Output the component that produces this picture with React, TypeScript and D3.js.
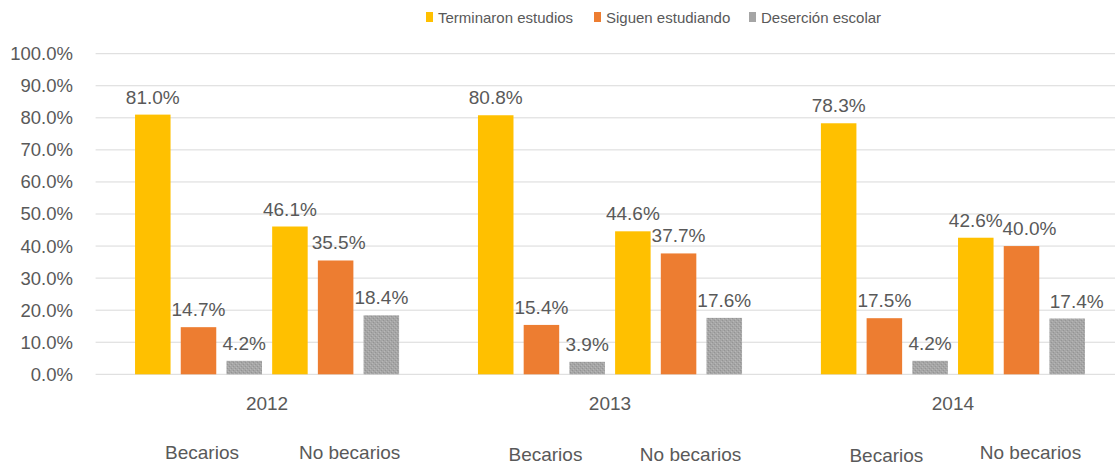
import React from "react";
import * as d3 from "d3";

const years = ["2012", "2013", "2014"];
const groups = ["Becarios", "No becarios"];
const seriesNames = ["Terminaron estudios", "Siguen estudiando", "Deserción escolar"];
// values [year][group][series]
const becariosTerminaron = [0.81, 0.808, 0.783];
const becariosSiguen = [0.147, 0.154, 0.175];
const becariosDesercion = [0.042, 0.039, 0.042];
const noBecariosTerminaron = [0.461, 0.446, 0.426];
const noBecariosSiguen = [0.355, 0.377, 0.4];
const noBecariosDesercion = [0.184, 0.176, 0.174];
const yTicks = [0, 0.1, 0.2, 0.3, 0.4, 0.5, 0.6, 0.7, 0.8, 0.9, 1.0];

const colors = ["#FFC000", "#ED7D31", "url(#grayTex)"];
const legendColors = ["#FFC000", "#ED7D31", "#A5A5A5"];

const W = 1115;
const H = 468;
const left = 95.6;
const right = 1124.4;
const y0 = 374.3;
const y1 = 53.7;
const textColor = "#595959";
const font = "'Liberation Sans', Arial, sans-serif";

// label nudges for overlapping data labels (year-index, bar-index) -> dx
const labelNudge: Record<string, number> = { "0-4": 3, "2-4": 8, "2-5": 9.5 };
// manual text-box offsets for the group labels
const groupLabelDx = [[3.5, 14], [4, 12], [2, 9]];
const groupLabelY = [[458.5, 458.5], [461, 461], [461.5, 458.5]];

export default function App() {
  const x0 = d3.scaleBand<string>().domain(years).range([left, right]).paddingInner(0.23).paddingOuter(0.115);
  const barKeys = d3.range(6).map(String);
  const x1 = d3.scaleBand<string>().domain(barKeys).range([0, x0.bandwidth()]).paddingInner(0.223);
  const y = d3.scaleLinear().domain([0, 1]).range([y0, y1]);
  const fmt = d3.format(".1%");

  const rows = years.map((yr, i) => [
    becariosTerminaron[i], becariosSiguen[i], becariosDesercion[i],
    noBecariosTerminaron[i], noBecariosSiguen[i], noBecariosDesercion[i],
  ]);

  const legendX = [426, 594, 749];

  return (
    <svg width={W} height={H} style={{ position: "absolute", left: 0, top: 0, background: "#fff" }} fontFamily={font}>
      <defs>
        <pattern id="grayTex" width="4" height="4" patternUnits="userSpaceOnUse">
          <rect width="4" height="4" fill="#a6a6a6" />
          <rect x="0" y="0" width="1" height="1" fill="#939393" />
          <rect x="2" y="2" width="1" height="1" fill="#939393" />
          <rect x="1" y="3" width="1" height="1" fill="#b8b8b8" />
          <rect x="3" y="1" width="1" height="1" fill="#b8b8b8" />
        </pattern>
      </defs>
      <rect width={W} height={H} fill="#fff" />
      {/* gridlines */}
      {yTicks.map((t) => (
        <g key={t}>
          <line x1={left} x2={right} y1={y(t)} y2={y(t)} stroke="#d9d9d9" strokeWidth={1} />
          <text x={73} y={y(t)} dy="0.35em" textAnchor="end" fontSize={18.5} fill={textColor}>
            {fmt(t)}
          </text>
        </g>
      ))}
      {/* bars */}
      {rows.map((vals, i) => (
        <g key={years[i]} transform={`translate(${x0(years[i])},0)`}>
          {vals.map((v, j) => {
            const bx = x1(String(j))!;
            const bw = x1.bandwidth();
            const nudge = labelNudge[`${i}-${j}`] || 0;
            return (
              <g key={j}>
                <rect x={bx} y={y(v)} width={bw} height={y0 - y(v)} fill={colors[j % 3]} />
                <text x={bx + bw / 2 + nudge} y={y(v) - 11} textAnchor="middle" fontSize={19} fill={textColor}>
                  {fmt(v)}
                </text>
              </g>
            );
          })}
        </g>
      ))}
      {/* year labels */}
      {years.map((yr) => (
        <text key={yr} x={x0(yr)! + x0.bandwidth() / 2} y={410} textAnchor="middle" fontSize={19} fill={textColor}>
          {yr}
        </text>
      ))}
      {/* group labels */}
      {years.map((yr, i) =>
        groups.map((g, k) => {
          const a = x1(String(k * 3))!;
          const b = x1(String(k * 3 + 2))! + x1.bandwidth();
          const cx = x0(yr)! + (a + b) / 2 + groupLabelDx[i][k];
          return (
            <text key={yr + g} x={cx} y={groupLabelY[i][k]} textAnchor="middle" fontSize={19} fill={textColor}>
              {g}
            </text>
          );
        })
      )}
      {/* legend */}
      {seriesNames.map((s, i) => (
        <g key={s}>
          <rect x={legendX[i]} y={12} width={7} height={10} fill={legendColors[i]} />
          <text x={legendX[i] + 12} y={23} fontSize={15} fill={textColor}>
            {s}
          </text>
        </g>
      ))}
    </svg>
  );
}
